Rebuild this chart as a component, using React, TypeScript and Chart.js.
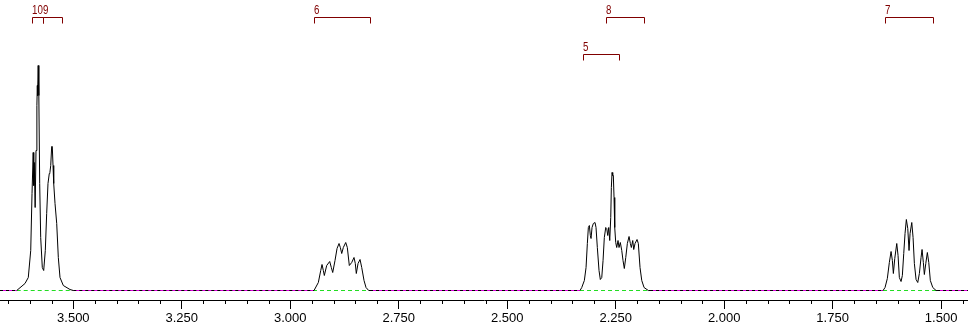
import { useEffect, useRef } from 'react';
import { Chart, registerables } from 'chart.js';

Chart.register(...registerables);

// x axis (chemical shift, ppm), reversed as in NMR spectra
const PPM_MIN = 1.438;
const PPM_MAX = 3.669;
const majorTicks = [1.5, 1.75, 2.0, 2.25, 2.5, 2.75, 3.0, 3.25, 3.5];
const minorStep = 0.05;

// multiplet 1 (H9/H10, ~3.57 ppm)
const m1Ppm = [3.6305, 3.6114, 3.6038, 3.5982, 3.5952, 3.5925, 3.5912, 3.5900, 3.5880, 3.5860, 3.5840, 3.5830, 3.5824, 3.5810, 3.5795, 3.5775, 3.5752, 3.5715, 3.5683, 3.5646, 3.5614, 3.5584, 3.5554, 3.5540, 3.5521, 3.5499, 3.5485, 3.5468, 3.5452, 3.5422, 3.5383, 3.5346, 3.5307, 3.5231, 3.5077, 3.5000];
const m1Int = [0, 7, 13, 40, 97, 138, 105, 128, 83, 140, 185, 205, 195, 225, 195, 107, 53, 23, 20, 40, 77, 107, 117, 118, 125, 144, 144, 125, 107, 87, 67, 33, 13, 5, 1, 0];

// multiplet 2 (H6, ~2.88 ppm)
const m2Ppm = [2.9476, 2.9453, 2.9353, 2.9298, 2.9268, 2.9238, 2.9215, 2.9161, 2.9091, 2.9054, 2.9022, 2.8969, 2.8922, 2.8876, 2.8846, 2.8814, 2.8777, 2.8722, 2.8685, 2.8639, 2.8584, 2.8531, 2.8501, 2.8478, 2.8438, 2.8392, 2.8353, 2.8300, 2.8254, 2.8192, 2.8162];
const m2Int = [0, 0, 8, 20, 26, 20, 15, 25, 29, 23, 18, 30, 42, 47, 43, 37, 43, 48, 43, 25, 28, 33, 27, 17, 27, 31, 23, 10, 3, 0, 0];

// multiplet 3 (H5/H8, ~2.25 ppm)
const m3Ppm = [2.3322, 2.3282, 2.3222, 2.3183, 2.3153, 2.3130, 2.3107, 2.3084, 2.3068, 2.3045, 2.3015, 2.2976, 2.2953, 2.2923, 2.2884, 2.2854, 2.2821, 2.2791, 2.2762, 2.2729, 2.2706, 2.2683, 2.2660, 2.2637, 2.2614, 2.2600, 2.2584, 2.2568, 2.2554, 2.2538, 2.2522, 2.2499, 2.2476, 2.2446, 2.2423, 2.2393, 2.2360, 2.2331, 2.2301, 2.2268, 2.2231, 2.2192, 2.2162, 2.2139, 2.2107, 2.2084, 2.2054, 2.2008, 2.1978, 2.1939, 2.1899, 2.1846, 2.1747, 2.1708];
const m3Int = [0, 3, 10, 23, 47, 63, 65, 55, 52, 63, 67, 68, 63, 43, 20, 11, 13, 30, 53, 63, 62, 55, 63, 50, 73, 103, 118, 115, 115, 93, 63, 48, 43, 50, 43, 48, 40, 30, 22, 33, 47, 54, 47, 43, 50, 41, 47, 51, 47, 23, 10, 3, 0, 0];

// multiplet 4 (H7, ~1.57 ppm)
const m4Ppm = [1.6338, 1.6292, 1.6239, 1.6193, 1.6153, 1.6123, 1.6100, 1.6068, 1.6022, 1.5992, 1.5962, 1.5923, 1.5893, 1.5861, 1.5831, 1.5801, 1.5768, 1.5739, 1.5715, 1.5676, 1.5646, 1.5616, 1.5577, 1.5538, 1.5501, 1.5462, 1.5439, 1.5409, 1.5386, 1.5353, 1.5317, 1.5284, 1.5248, 1.5192, 1.5116, 1.5093];
const m4Int = [0, 3, 12, 28, 39, 30, 17, 32, 47, 35, 13, 9, 15, 37, 57, 71, 62, 40, 57, 68, 53, 27, 11, 8, 17, 33, 41, 28, 16, 27, 38, 28, 10, 3, 0, 0];

// integration regions (green dashed baseline)
const regionStart = [3.6305, 2.9476, 2.3322, 1.6338];
const regionEnd = [3.5000, 2.8162, 2.1708, 1.5093];

// assignment brackets
const bracketLabels = ['10', '9', '6', '8', '5', '7'];
const bracketFrom = [3.5959, 3.5692, 2.9446, 2.2722, 2.3246, 1.6285];
const bracketTo = [3.5692, 3.5268, 2.8155, 2.1840, 2.2430, 1.5179];

const FONT = "'Liberation Sans', Arial, sans-serif";

function buildSpectrum() {
  const groups: [number[], number[]][] = [[m1Ppm, m1Int], [m2Ppm, m2Int], [m3Ppm, m3Int], [m4Ppm, m4Int]];
  const out: { x: number; y: number | null }[] = [];
  groups.forEach(([p, v], g) => {
    if (g > 0) {
      const prev = groups[g - 1][0];
      out.push({ x: (prev[prev.length - 1] + p[0]) / 2, y: null });
    }
    p.forEach((x, k) => out.push({ x, y: v[k] }));
  });
  return out;
}

function buildBaseline(segments: [number, number][]) {
  const out: { x: number; y: number | null }[] = [];
  segments.forEach(([a, b], i) => {
    if (i > 0) out.push({ x: (segments[i - 1][1] + a) / 2, y: null });
    out.push({ x: a, y: 0 });
    out.push({ x: b, y: 0 });
  });
  return out;
}

export default function App() {
  const ref = useRef<HTMLCanvasElement | null>(null);
  useEffect(() => {
    if (!ref.current) return;
    const inside: [number, number][] = regionStart.map((s, i) => [s, regionEnd[i]]);
    const outside: [number, number][] = [];
    let cur = PPM_MAX;
    regionStart.forEach((s, i) => {
      outside.push([cur, s]);
      cur = regionEnd[i];
    });
    outside.push([cur, PPM_MIN]);

    const annot = {
      id: 'annot',
      afterDraw(chart: any) {
        const ctx = chart.ctx as CanvasRenderingContext2D;
        const xs = chart.scales.x;
        const axisY = Math.round(chart.chartArea.bottom);
        ctx.save();
        // minor ticks
        ctx.strokeStyle = '#000';
        ctx.lineWidth = 1;
        ctx.beginPath();
        for (let k = Math.ceil(PPM_MIN / minorStep); k * minorStep <= PPM_MAX; k++) {
          const v = k * minorStep;
          if (Math.abs(v / 0.25 - Math.round(v / 0.25)) < 1e-6) continue;
          const px = Math.round(xs.getPixelForValue(v)) + 0.5;
          ctx.moveTo(px, axisY);
          ctx.lineTo(px, axisY + 4);
        }
        ctx.stroke();
        // brackets
        const levels: number[] = [];
        bracketLabels.forEach((_, i) => {
          const hi = Math.max(bracketFrom[i], bracketTo[i]);
          const lo = Math.min(bracketFrom[i], bracketTo[i]);
          let lvl = 0;
          for (let j = 0; j < i; j++) {
            const hj = Math.max(bracketFrom[j], bracketTo[j]);
            const lj = Math.min(bracketFrom[j], bracketTo[j]);
            if (levels[j] === lvl && lo < hj - 1e-4 && hi > lj + 1e-4) lvl++;
          }
          levels.push(lvl);
        });
        ctx.strokeStyle = '#800000';
        ctx.fillStyle = '#800000';
        ctx.font = `13px ${FONT}`;
        ctx.textBaseline = 'alphabetic';
        ctx.textAlign = 'left';
        bracketLabels.forEach((lab, i) => {
          const x1 = Math.round(xs.getPixelForValue(bracketFrom[i])) + 0.5;
          const x2 = Math.round(xs.getPixelForValue(bracketTo[i])) + 0.5;
          const y = 17.5 + levels[i] * 37;
          ctx.beginPath();
          ctx.moveTo(x1, y + 6);
          ctx.lineTo(x1, y);
          ctx.lineTo(x2, y);
          ctx.lineTo(x2, y + 6);
          ctx.stroke();
          ctx.save();
          ctx.translate(x1 - 0.5, y - 3.5);
          ctx.scale(0.75, 1);
          ctx.fillText(lab, 0, 0);
          ctx.restore();
        });
        ctx.restore();
      },
    };

    const chart = new Chart(ref.current, {
      type: 'line',
      data: {
        datasets: [
          {
            label: 'spectrum',
            data: buildSpectrum() as any,
            borderColor: '#000',
            borderWidth: 1,
            pointRadius: 0,
            tension: 0,
            spanGaps: false,
            fill: false,
          },
          {
            label: 'baseline-dash',
            data: buildBaseline(outside) as any,
            borderColor: '#000',
            borderWidth: 1,
            borderDash: [3, 3],
            pointRadius: 0,
            spanGaps: false,
          },
          {
            label: 'baseline',
            data: buildBaseline(outside) as any,
            borderColor: '#e000e0',
            borderWidth: 1,
            pointRadius: 0,
            spanGaps: false,
          },
          {
            label: 'integral-baseline',
            data: buildBaseline(inside) as any,
            borderColor: '#22dd22',
            borderWidth: 1,
            borderDash: [4, 3],
            pointRadius: 0,
            spanGaps: false,
          },
        ],
      },
      options: {
        responsive: false,
        animation: false,
        devicePixelRatio: 1,
        layout: { padding: 0 },
        plugins: { legend: { display: false }, tooltip: { enabled: false }, title: { display: false } },
        scales: {
          x: {
            type: 'linear',
            reverse: true,
            min: PPM_MIN,
            max: PPM_MAX,
            afterBuildTicks: (scale: any) => {
              scale.ticks = majorTicks.map((v) => ({ value: v }));
            },
            ticks: {
              color: '#000',
              padding: 2,
              autoSkip: false,
              maxRotation: 0,
              font: { family: FONT, size: 13, lineHeight: '14px' as any },
              callback: (v: any) => Number(v).toFixed(3),
            },
            grid: {
              display: true,
              drawOnChartArea: false,
              drawTicks: true,
              tickLength: 9,
              tickColor: '#000',
              color: '#000',
            },
            border: { display: true, color: '#000', width: 1 },
          },
          y: {
            display: false,
            min: -9.5,
            max: 290.5,
          },
        },
      },
      plugins: [annot],
    });
    return () => chart.destroy();
  }, []);

  return (
    <div style={{ position: 'absolute', left: 0, top: 0, width: 968, height: 327, background: '#fff' }}>
      <canvas ref={ref} width={968} height={327} style={{ display: 'block' }} />
    </div>
  );
}
